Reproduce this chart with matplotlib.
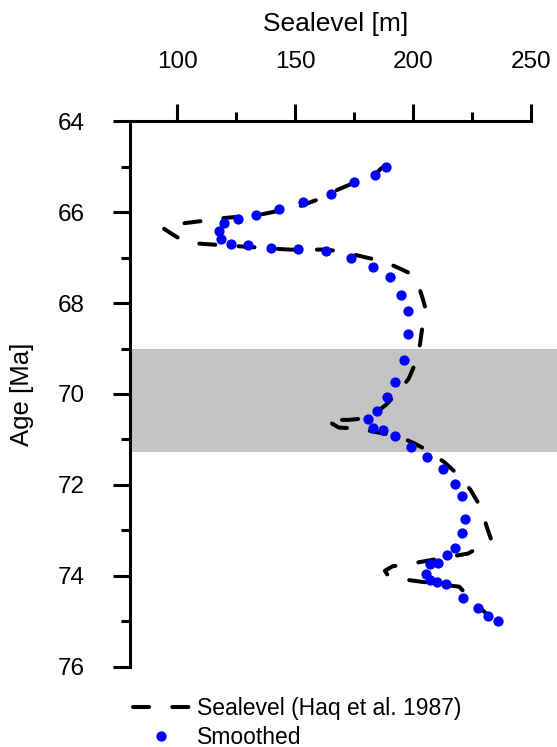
import matplotlib
matplotlib.use("Agg")
import matplotlib.pyplot as plt

plt.rcParams["font.family"] = ["Liberation Sans", "DejaVu Sans"]

# Haq et al. (1987) sea-level curve: sea level [m] vs. age [Ma]
haq_sealevel = [188.4, 186.6, 183.6, 174.6, 164.7, 159.1, 151.3, 144.9, 136.4, 125.8,
                119.5, 111.0, 103.3, 94.0, 97.2, 103.7, 111.7, 120.2, 132.2, 140.7,
                146.4, 152.0, 162.8, 168.6, 176.3, 184.5, 191.8, 199.3, 202.5, 204.2,
                205.0, 204.0, 202.9, 201.2, 198.1, 193.8, 188.4, 186.2, 178.8, 172.5,
                163.0, 168.5, 176.7, 182.4, 194.3, 200.6, 207.1, 213.4, 219.1, 224.3,
                228.6, 231.1, 233.0, 229.7, 223.3, 199.3, 191.3, 188.0, 189.4, 197.5,
                219.5, 225.4, 233.5]
haq_age = [64.98, 65.03, 65.18, 65.36, 65.58, 65.73, 65.88, 65.95, 66.04, 66.10,
           66.13, 66.19, 66.24, 66.35, 66.46, 66.67, 66.70, 66.73, 66.77, 66.80,
           66.82, 66.83, 66.82, 66.86, 66.95, 67.05, 67.18, 67.36, 67.65, 67.93,
           68.08, 68.48, 68.90, 69.29, 69.66, 69.95, 70.24, 70.33, 70.54, 70.57,
           70.57, 70.74, 70.76, 70.82, 70.94, 71.09, 71.27, 71.51, 71.78, 72.11,
           72.49, 72.91, 73.20, 73.32, 73.51, 73.73, 73.79, 73.89, 74.00, 74.09,
           74.24, 74.57, 74.95]

# Smoothed sea-level record
smooth_sealevel = [188.4, 183.7, 174.9, 165.0, 153.4, 143.0, 133.6, 125.6, 119.9, 117.7,
                   118.4, 122.6, 129.8, 139.7, 151.1, 162.9, 173.6, 182.8, 190.1, 194.8,
                   197.6, 197.9, 195.9, 192.5, 188.7, 184.7, 180.9, 182.8, 187.0, 192.4,
                   198.9, 205.9, 212.5, 217.7, 220.6, 221.9, 220.5, 217.8, 214.2, 210.6,
                   207.1, 205.4, 207.1, 209.9, 213.9, 220.9, 227.4, 231.5, 236.0]
smooth_age = [65.00, 65.19, 65.34, 65.60, 65.78, 65.93, 66.06, 66.15, 66.23, 66.41,
              66.58, 66.69, 66.73, 66.78, 66.82, 66.86, 67.01, 67.20, 67.43, 67.82,
              68.17, 68.68, 69.26, 69.74, 70.06, 70.38, 70.56, 70.74, 70.79, 70.92,
              71.16, 71.39, 71.65, 71.98, 72.24, 72.75, 73.05, 73.38, 73.54, 73.71,
              73.75, 73.97, 74.09, 74.13, 74.18, 74.48, 74.70, 74.88, 74.99]

# Highlighted age interval
band_age = (69.0, 71.27)

x_major = [100, 150, 200, 250]
x_minor = [125, 175, 225]
y_major = [64, 66, 68, 70, 72, 74, 76]
y_minor = [65, 67, 69, 71, 73, 75]

W, H = 557, 747
fig = plt.figure(figsize=(W / 100, H / 100), dpi=100)
ax = fig.add_axes([130 / W, 1 - 666.7 / H, 427 / W, 545.4 / H])

ax.set_xlim(80, 80 + 427 / 2.36)
ax.set_ylim(76, 64)

ax.axhspan(*band_age, color="#c4c4c4", lw=0, zorder=0)

ax.plot(haq_sealevel, haq_age, color="black", lw=2.9, dashes=(4, 5.75),
        dash_capstyle="round", zorder=2, label="Sealevel (Haq et al. 1987)")
ax.plot(smooth_sealevel, smooth_age, "o", color="blue", ms=7.4, mew=0,
        zorder=3, label="Smoothed")

for s in ("right", "bottom"):
    ax.spines[s].set_visible(False)
ax.spines["top"].set_bounds(80, 250)
ax.spines["left"].set_bounds(64, 76)
for s in ("top", "left"):
    ax.spines[s].set_linewidth(2.2)

ax.xaxis.set_ticks_position("top")
ax.xaxis.set_label_position("top")
ax.set_xticks(x_major)
ax.set_xticks(x_minor, minor=True)
ax.set_yticks(y_major)
ax.set_yticks(y_minor, minor=True)
ax.tick_params(which="major", length=12.2, width=2.2, labelsize=17.5)
ax.tick_params(which="minor", length=6.3, width=2.2)
ax.tick_params(axis="x", which="major", pad=22.5)
ax.tick_params(axis="y", which="major", pad=20.5)

ax.set_xlabel("Sealevel [m]", fontsize=19, va="center")
ax.xaxis.set_label_coords((335.5 - 130) / 427, (666.7 - 24) / 545.4)
ax.set_ylabel("Age [Ma]", fontsize=18.5, va="center")
ax.yaxis.set_label_coords((22.5 - 130) / 427, 0.5)

handles, labels = ax.get_legend_handles_labels()
fig.legend(handles, labels, loc="center left", bbox_to_anchor=(133 / W, 1 - 723 / H),
           frameon=False, borderpad=0, borderaxespad=0, handlelength=2.45,
           handletextpad=0.35, labelspacing=0.22, fontsize=16.5, numpoints=1)

fig.savefig("out.png", dpi=100)
